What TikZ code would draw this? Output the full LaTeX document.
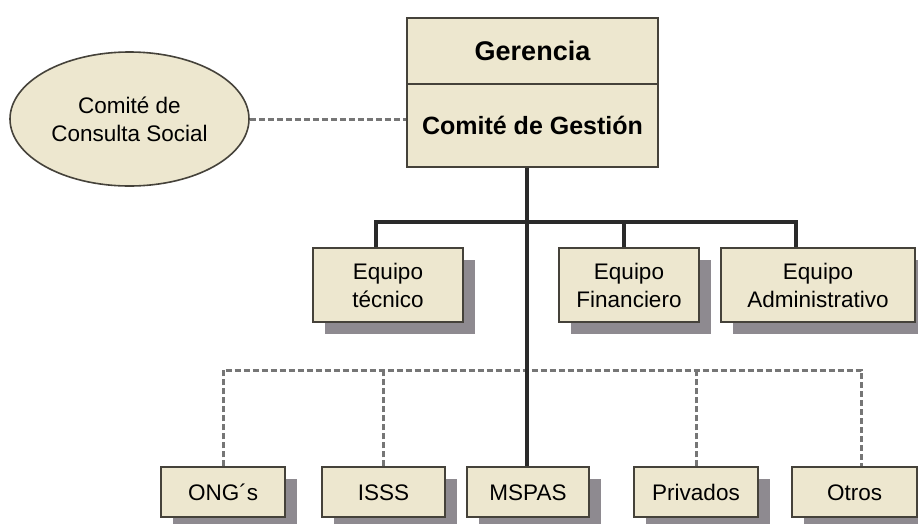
\documentclass[tikz,border=0pt]{standalone}
\usepackage{fontspec}
\setmainfont{Liberation Sans}
\usetikzlibrary{shapes.geometric,shadows}

\definecolor{boxfill}{HTML}{EDE7CF}
\definecolor{boxline}{HTML}{45423A}
\definecolor{shadowgray}{HTML}{8E8A90}
\definecolor{lineblack}{HTML}{2A2A2A}
\definecolor{dashgray}{HTML}{767676}

\begin{document}
\begin{tikzpicture}[x=1pt, y=-1pt,
    box/.style={draw=boxline, line width=1.3pt, fill=boxfill, inner sep=0pt, align=center,
        font=\fontsize{22.5}{28}\selectfont},
    shadowbox/.style={box, drop shadow={shadow xshift=12pt, shadow yshift=-12pt, fill=shadowgray, opacity=1}},
    smallbox/.style={shadowbox, minimum height=50pt, text height=16.1pt, text depth=0pt},
    solidline/.style={draw=lineblack, line width=3.2pt},
    dashline/.style={draw=dashgray, line width=3pt, dash pattern=on 6pt off 3pt}]
    \useasboundingbox (0,0) rectangle (918,523);

    \node[box, minimum width=251pt, minimum height=66pt, font=\fontsize{27}{30}\selectfont\bfseries] (gerencia) at (532.5, 51) {Gerencia};
    \node[box, minimum width=251pt, minimum height=83pt, font=\fontsize{25}{30}\selectfont\bfseries] (gestion) at (532.5, 125.5) {Comité de Gestión};
    \node[box, ellipse, line width=1.6pt, minimum width=239pt, minimum height=134pt] (comite) at (129.5, 119) {Comité de\\Consulta Social};

    \node[shadowbox, minimum width=150pt, minimum height=74pt] (tecnico) at (388, 285) {Equipo\\técnico};
    \node[shadowbox, minimum width=140pt, minimum height=74pt] (financiero) at (629, 285) {Equipo\\Financiero};
    \node[shadowbox, minimum width=194pt, minimum height=74pt] (admin) at (818, 285) {Equipo\\Administrativo};

    \node[smallbox, minimum width=124pt] (ong) at (223, 492) {ONG´s};
    \node[smallbox, minimum width=123pt] (isss) at (383.5, 492) {ISSS};
    \node[smallbox, minimum width=122pt] (mspas) at (528, 492) {MSPAS};
    \node[smallbox, minimum width=124pt] (privados) at (696, 492) {Privados};
    \node[smallbox, minimum width=125pt] (otros) at (854.5, 492) {Otros};

    \coordinate (bus) at (527, 222);
    \coordinate (dbus) at (527, 370);

    \draw[dashline] (comite.east) -- (comite.east -| gestion.west);
    \draw[dashline] (ong.north) |- (dbus) -| ([xshift=7pt]otros.north);
    \draw[dashline] (isss.north) -- (isss.north |- dbus);
    \draw[dashline] (privados.north) -- (privados.north |- dbus);

    \draw[solidline] (gestion.south -| bus) -- (mspas.north -| bus);
    \draw[solidline] ([xshift=-12pt]tecnico.north) |- (bus) -| ([xshift=-22pt]admin.north);
    \draw[solidline] ([xshift=-5pt]financiero.north) |- (bus);

\end{tikzpicture}
\end{document}
